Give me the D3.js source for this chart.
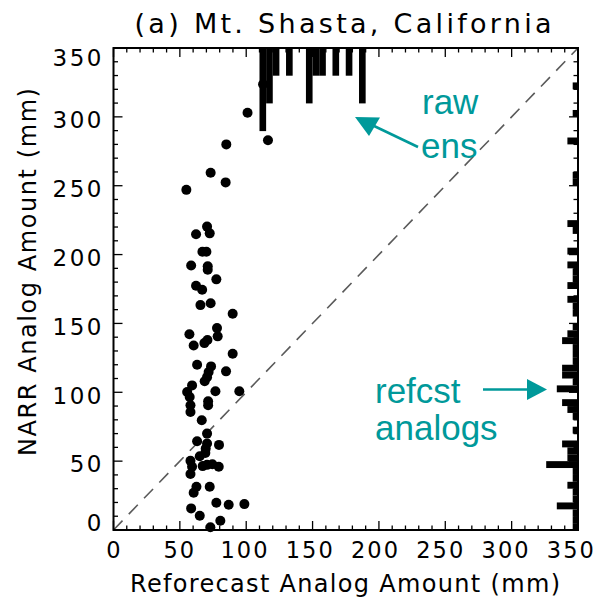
<!DOCTYPE html>
<html>
<head>
<meta charset="utf-8">
<script src="https://cdn.jsdelivr.net/npm/d3@7"></script>
<style>
  body { margin: 0; background: #fff; }
  svg text { font-family: "DejaVu Sans", sans-serif; fill: #000; }
  .note { font-family: "Liberation Sans", Arial, sans-serif; fill: #00999a; }
</style>
</head>
<body>
<svg id="chart" width="603" height="607"></svg>
<script>
// analog pairs: reforecast amount (x) vs NARR amount (y), mm
var analogX = [73.2, 84.5, 54.9, 70.5, 62.2, 72.5, 67, 70, 58.5, 71, 71, 77.5, 62.2, 66.8, 65.5, 73.2,
    89.8, 78, 57.2, 70.8, 78.5, 60.4, 68.5, 89.8, 63, 73.5, 71.7, 70.5, 68.7, 84.8, 59.2, 55.5,
    57.4, 76.8, 94.8, 71.3, 71.3, 58, 58, 66.5, 70.5, 63, 70.5, 69.5, 69.2, 65, 79.5, 58,
    59.2, 58, 67.2, 70.5, 74.5, 79.3, 62.5, 60.4, 72.5, 77.5, 86.8, 98.6, 58.5, 65, 80.5, 73,
    112.7, 101, 116.4, 85];
var analogY = [259.4, 252.4, 247, 220.3, 214.7, 215.4, 202, 202, 192, 191.5, 189, 182, 177.3, 174.4, 163.3, 164.7,
    157, 146.6, 142.2, 138, 140.6, 134, 135.7, 128, 120, 118.8, 114.7, 111, 108, 115.2, 105, 100.2,
    96.6, 100.7, 100.7, 93.5, 90.6, 90.6, 85.7, 79.7, 70, 64.5, 62.8, 59.2, 56, 53.6, 61.8, 50.2,
    45.9, 40.6, 46.4, 47.3, 47.8, 45.9, 31.4, 27, 31.4, 19.8, 18.3, 18.8, 15.7, 10.4, 6.7, 2,
    323.7, 303, 283, 280];

// raw ensemble histogram (5 mm bins), hanging from the top
var rawBins = [110, 115, 120, 130, 145, 150, 155, 165, 175, 185];
var rawCounts = [3, 2, 1, 1, 2, 1, 1, 1, 1, 2];

// histogram of NARR analog amounts (5 mm bins), on the right side
var anaBins = [0, 5, 10, 15, 20, 25, 30, 35, 40, 45, 50, 55, 60, 70, 80, 85, 90, 100, 105, 110, 115,
    120, 125, 130, 135, 140, 145, 155, 160, 165, 175, 180, 185, 190, 200, 215, 220, 250, 255, 280, 300, 320];
var anaCounts = [1, 1, 1, 4, 1, 1, 2, 1, 1, 6, 2, 2, 3, 1, 1, 2, 3, 4, 1, 3, 3,
    1, 1, 1, 3, 2, 1, 1, 1, 2, 2, 1, 1, 2, 2, 1, 2, 1, 1, 2, 1, 1];

var ticks = [0, 50, 100, 150, 200, 250, 300, 350];
var minorTicks = d3.range(0, 351, 10);
var binWidth = 5;

function draw() {
    var svg = d3.select("#chart");
    var pLeft = 113.5, pRight = 578, pTop = 48, pBottom = 530;

    var xScale = d3.scaleLinear().domain([0, 350]).range([pLeft, pRight]);
    var yScale = d3.scaleLinear().domain([0, 350]).range([pBottom, pTop]);
    // bar lengths in pixels per count
    var rawLen = d3.scaleLinear().domain([0, 1]).range([0, 27.7]);
    var anaLen = d3.scaleLinear().domain([0, 1]).range([0, 5.3]);

    // 1:1 line
    svg.append("line")
        .attr("x1", xScale(0)).attr("y1", yScale(0))
        .attr("x2", xScale(350)).attr("y2", yScale(350))
        .attr("stroke", "#5a5a5a").attr("stroke-width", 1.6)
        .attr("stroke-dasharray", "13,9");

    // raw ensemble bars
    svg.selectAll(".raw")
        .data(rawBins)
        .enter().append("rect")
        .classed("raw", true)
        .attr("x", d => xScale(d))
        .attr("width", xScale(binWidth) - xScale(0))
        .attr("y", pTop)
        .attr("height", (d, i) => rawLen(rawCounts[i]))
        .attr("fill", "#000");

    // analog histogram bars
    svg.selectAll(".ana")
        .data(anaBins)
        .enter().append("rect")
        .classed("ana", true)
        .attr("x", (d, i) => pRight - anaLen(anaCounts[i]))
        .attr("width", (d, i) => anaLen(anaCounts[i]))
        .attr("y", d => yScale(d + binWidth))
        .attr("height", yScale(0) - yScale(binWidth))
        .attr("fill", "#000");

    // dots
    svg.selectAll(".dot")
        .data(analogX)
        .enter().append("circle")
        .classed("dot", true)
        .attr("cx", d => xScale(d))
        .attr("cy", (d, i) => yScale(analogY[i]))
        .attr("r", 5)
        .attr("fill", "#000");

    // tick marks on all four sides, pointing inward
    var tickG = svg.append("g").attr("stroke", "#000").attr("stroke-width", 1.3);
    minorTicks.forEach(function(v){
        var len = v % 50 === 0 ? 9 : 4.5;
        var px = xScale(v), py = yScale(v);
        tickG.append("line").attr("x1", px).attr("x2", px).attr("y1", pBottom).attr("y2", pBottom - len);
        tickG.append("line").attr("x1", px).attr("x2", px).attr("y1", pTop).attr("y2", pTop + len);
        tickG.append("line").attr("y1", py).attr("y2", py).attr("x1", pLeft).attr("x2", pLeft + len);
        tickG.append("line").attr("y1", py).attr("y2", py).attr("x1", pRight).attr("x2", pRight - len);
    });

    // frame
    svg.append("rect")
        .attr("x", pLeft).attr("y", pTop)
        .attr("width", pRight - pLeft).attr("height", pBottom - pTop)
        .attr("fill", "none").attr("stroke", "#000").attr("stroke-width", 2);

    // tick labels
    svg.selectAll(".xlab")
        .data(ticks)
        .enter().append("text")
        .attr("x", d => xScale(d) - d * 0.022 + 1)
        .attr("y", 558)
        .attr("text-anchor", "middle")
        .style("font-size", "22.5px")
        .style("letter-spacing", "2px")
        .text(d => d);

    svg.selectAll(".ylab")
        .data(ticks)
        .enter().append("text")
        .attr("x", 104)
        .attr("y", d => Math.min(Math.max(yScale(d) + 3, 58), 523))
        .attr("dy", "0.36em")
        .attr("text-anchor", "end")
        .style("font-size", "23px")
        .style("letter-spacing", "2.5px")
        .text(d => d);

    // titles
    svg.append("text")
        .attr("x", 343).attr("y", 33)
        .attr("text-anchor", "middle")
        .attr("textLength", 417).attr("lengthAdjust", "spacing")
        .style("font-size", "27px")
        .text("(a) Mt. Shasta, California");

    svg.append("text")
        .attr("x", 345).attr("y", 592)
        .attr("text-anchor", "middle")
        .attr("textLength", 430).attr("lengthAdjust", "spacing")
        .style("font-size", "24px")
        .text("Reforecast Analog Amount (mm)");

    svg.append("text")
        .attr("transform", "translate(36,272) rotate(-90)")
        .attr("text-anchor", "middle")
        .attr("textLength", 368).attr("lengthAdjust", "spacing")
        .style("font-size", "24px")
        .text("NARR Analog Amount (mm)");

    // annotations
    var teal = "#00999a";
    svg.append("text").classed("note", true).attr("x", 422).attr("y", 114).style("font-size", "35px").text("raw");
    svg.append("text").classed("note", true).attr("x", 421).attr("y", 158).style("font-size", "35px").text("ens");
    svg.append("line").attr("x1", 418).attr("y1", 147).attr("x2", 372).attr("y2", 125)
        .attr("stroke", teal).attr("stroke-width", 2.5);
    svg.append("path").attr("d", "M355,117 L380,117.5 L369,136 Z").attr("fill", teal);

    svg.append("text").classed("note", true).attr("x", 375).attr("y", 403).style("font-size", "35px").text("refcst");
    svg.append("text").classed("note", true).attr("x", 375).attr("y", 440).style("font-size", "35px").text("analogs");
    svg.append("line").attr("x1", 483).attr("y1", 389.5).attr("x2", 530).attr("y2", 389.5)
        .attr("stroke", teal).attr("stroke-width", 2.5);
    svg.append("path").attr("d", "M527,379 L547,389.5 L527,400 Z").attr("fill", teal);
}

draw();
</script>
</body>
</html>
